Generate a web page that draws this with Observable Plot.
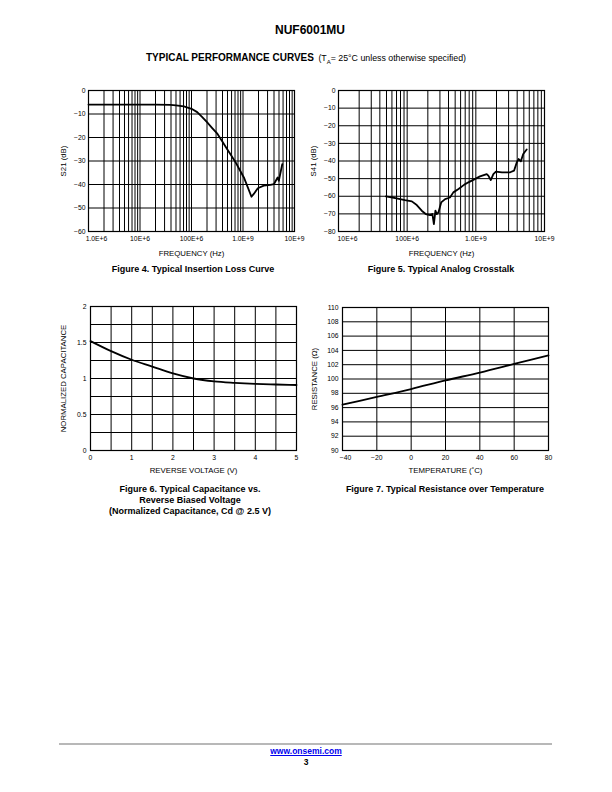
<!DOCTYPE html>
<html>
<head>
<meta charset="utf-8">
<script src="https://cdn.jsdelivr.net/npm/d3@7"></script>
<script src="https://cdn.jsdelivr.net/npm/@observablehq/plot@0.6"></script>
<style>
  body { margin: 0; background: #fff; font-family: "Liberation Sans", Arial, sans-serif; color: #000; }
  #page { position: relative; width: 612px; height: 792px; overflow: hidden; background: #fff; }
  .abs { position: absolute; }
  .ctr { text-align: center; white-space: nowrap; }
  .cap { font-weight: bold; font-size: 9px; line-height: 11px; }
</style>
</head>
<body>
<div id="page">
  <div class="abs ctr" style="left:4px;width:612px;top:23px;font-size:12px;font-weight:bold;line-height:14px;">NUF6001MU</div>
  <div class="abs ctr" style="left:0;width:612px;top:50px;line-height:12px;"><span style="font-size:10px;font-weight:bold;">TYPICAL PERFORMANCE CURVES</span> <span style="font-size:8.8px;">(T<sub style="font-size:6px;">A</sub>= 25°C unless otherwise specified)</span></div>

  <div id="fig4" class="abs" style="left:40px;top:80px;"></div>
  <div id="fig5" class="abs" style="left:300px;top:80px;"></div>
  <div id="fig6" class="abs" style="left:40px;top:296px;"></div>
  <div id="fig7" class="abs" style="left:300px;top:296px;"></div>

  <div class="abs ctr cap" style="left:93px;width:200px;top:264px;">Figure 4. Typical Insertion Loss Curve</div>
  <div class="abs ctr cap" style="left:341px;width:200px;top:264px;">Figure 5. Typical Analog Crosstalk</div>
  <div class="abs ctr cap" style="left:90px;width:200px;top:484px;">Figure 6. Typical Capacitance vs.<br>Reverse Biased Voltage<br>(Normalized Capacitance, Cd @ 2.5 V)</div>
  <div class="abs ctr cap" style="left:345px;width:200px;top:484px;">Figure 7. Typical Resistance over Temperature</div>

  <div class="abs" style="left:59px;top:743px;width:493px;height:2px;background:#b8b8b8;"></div>
  <div class="abs ctr" style="left:0;width:612px;top:746px;font-size:8.5px;font-weight:bold;line-height:11px;"><span style="color:#0000ee;text-decoration:underline;">www.onsemi.com</span></div>
  <div class="abs ctr" style="left:0;width:612px;top:757px;font-size:8.5px;font-weight:bold;line-height:10px;">3</div>
</div>
<script>
// ---------- Figure 4: insertion loss ----------
const fig4Freq = [1e6, 2e6, 5e6, 1e7, 2e7, 3.9e7, 5e7, 7.1e7, 1e8, 1.29e8, 1.6e8, 2e8, 2.5e8, 3.2e8, 4e8, 4.9e8, 6e8, 7.2e8, 8.5e8, 1.04e9, 1.24e9, 1.46e9, 1.62e9, 1.94e9, 2.53e9, 3.4e9, 4.0e9, 4.7e9, 4.96e9, 5.8e9];
const fig4S21 = [-6, -6, -6, -6, -6, -6.1, -6.3, -6.8, -7.8, -9.2, -11.2, -13.5, -15.9, -18.5, -21.8, -24.9, -27.9, -30.6, -33.5, -37, -41.2, -45.2, -44, -41.6, -40.5, -40.2, -39.8, -37, -38.4, -31.3];
const fig4XTicks = [1e6, 1e7, 1e8, 1e9, 1e10];
const fig4XLabels = ["1.0E+6", "10E+6", "100E+6", "1.0E+9", "10E+9"];
const fig4YTicks = [0, -10, -20, -30, -40, -50, -60];

// ---------- Figure 5: crosstalk ----------
const fig5Freq = [4.9e7, 6.7e7, 9.3e7, 1.17e8, 1.38e8, 1.63e8, 1.86e8, 2.15e8, 2.33e8, 2.45e8, 2.58e8, 2.7e8, 2.85e8, 3.13e8, 3.57e8, 4.2e8, 4.7e8, 5.6e8, 6.8e8, 7.8e8, 1.15e9, 1.44e9, 1.52e9, 1.65e9, 1.8e9, 1.96e9, 2.4e9, 3.17e9, 3.6e9, 3.95e9, 4.2e9, 4.52e9, 4.9e9, 5.5e9];
const fig5S41 = [-60.1, -61, -62.2, -62.9, -65, -68.2, -70.1, -70.7, -70.1, -75.8, -68.2, -70.1, -69.2, -63.5, -61.6, -60.7, -57.8, -55.9, -53.4, -52.1, -48.7, -47.4, -48.3, -50.8, -47.4, -46, -46.4, -46.4, -45.5, -40.8, -38.9, -40.2, -36, -33.5];
const fig5XTicks = [1e7, 1e8, 1e9, 1e10];
const fig5XLabels = ["10E+6", "100E+6", "1.0E+9", "10E+9"];
const fig5YTicks = [0, -10, -20, -30, -40, -50, -60, -70, -80];

// ---------- Figure 6: capacitance ----------
const fig6Volt = [0, 0.5, 1, 1.5, 2, 2.5, 3, 3.5, 4, 4.5, 5];
const fig6Cap = [1.52, 1.38, 1.26, 1.165, 1.07, 1.0, 0.96, 0.94, 0.926, 0.917, 0.91];
const fig6XTicks = [0, 1, 2, 3, 4, 5];
const fig6YTicks = [0, 0.5, 1, 1.5, 2];

// ---------- Figure 7: resistance ----------
const fig7Temp = [-40, -20, 0, 20, 40, 60, 80];
const fig7Res = [96.4, 97.5, 98.6, 99.8, 100.9, 102.1, 103.3];
const fig7XTicks = [-40, -20, 0, 20, 40, 60, 80];
const fig7YTicks = [90, 92, 94, 96, 98, 100, 102, 104, 106, 108, 110];

const FONT = "'Liberation Sans', Arial, sans-serif";
const TICK_FS = 6.8;
const TITLE_FS = 7.8;

function logGrid(e0, e1) {
  const out = [];
  for (let e = e0; e < e1; e++) for (let k = 1; k <= 9; k++) out.push(k * Math.pow(10, e));
  out.push(Math.pow(10, e1));
  return out;
}
function range(a, b, s) { const o = []; for (let v = a; v <= b + 1e-9; v += s) o.push(+v.toFixed(6)); return o; }
const signed = d => (d < 0 ? "\u2212" : "") + Math.abs(d);

function chart(cfg) {
  const data = cfg.xs.map((x, i) => ({x, y: cfg.ys[i]}));
  const xfmt = cfg.xLabels
    ? (d => cfg.xLabels[cfg.xTicks.findIndex(t => Math.abs(t - d) < 1e-6 * Math.abs(t || 1))])
    : signed;
  const first = cfg.xTicks.slice(0, 1);
  const rest = cfg.xTicks.slice(1);
  return Plot.plot({
    width: cfg.width, height: cfg.height,
    marginLeft: cfg.ml, marginRight: cfg.mr, marginTop: cfg.mt, marginBottom: cfg.mb,
    style: {fontFamily: FONT, fontSize: TICK_FS + "px", background: "transparent", overflow: "visible", color: "#000"},
    x: {type: cfg.xType, domain: cfg.xDomain},
    y: {type: "linear", domain: cfg.yDomain},
    marks: [
      Plot.gridX(cfg.gridX, {stroke: "#000", strokeOpacity: 1, strokeWidth: 1}),
      Plot.gridY(cfg.gridY, {stroke: "#000", strokeOpacity: 1, strokeWidth: 1}),
      Plot.frame({stroke: "#000", strokeWidth: 1.2}),
      Plot.axisX(first, {tickSize: 0, tickPadding: 5, tickFormat: xfmt, label: null, fontSize: TICK_FS, dx: cfg.firstDx || 0}),
      Plot.axisX(rest, {tickSize: 0, tickPadding: 5, tickFormat: xfmt, label: null, fontSize: TICK_FS}),
      Plot.axisY(cfg.yTicks, {tickSize: 0, tickPadding: cfg.yPad, tickFormat: cfg.yfmt || signed, label: null, fontSize: TICK_FS}),
      Plot.text([cfg.xTitle], {frameAnchor: "bottom", dy: cfg.xTitleDy, text: d => d, fontSize: TITLE_FS, textAnchor: "middle", lineAnchor: "middle"}),
      Plot.text([cfg.yTitle], {frameAnchor: "left", dx: -cfg.yTitleDx, text: d => d, fontSize: TITLE_FS, rotate: -90, textAnchor: "middle", lineAnchor: "middle"}),
      Plot.line(data, {x: "x", y: "y", stroke: "#000", strokeWidth: 1.8, curve: cfg.curve, strokeLinejoin: "round"})
    ]
  });
}

document.getElementById("fig4").append(chart({
  width: 260, height: 185, ml: 48, mr: 6, mt: 10, mb: 34,
  xType: "log", xDomain: [1e6, 1e10], yDomain: [-60, 0],
  gridX: logGrid(6, 10), gridY: fig4YTicks,
  xTicks: fig4XTicks, xLabels: fig4XLabels, firstDx: 8, yTicks: fig4YTicks, yPad: 3,
  xTitle: "FREQUENCY (Hz)", xTitleDy: 22, yTitle: "S21 (dB)", yTitleDx: 25,
  xs: fig4Freq, ys: fig4S21, curve: "linear"
}));

document.getElementById("fig5").append(chart({
  width: 260, height: 185, ml: 38, mr: 16, mt: 10, mb: 34,
  xType: "log", xDomain: [1e7, 1e10], yDomain: [-80, 0],
  gridX: logGrid(7, 10), gridY: fig5YTicks,
  xTicks: fig5XTicks, xLabels: fig5XLabels, firstDx: 9, yTicks: fig5YTicks, yPad: 3,
  xTitle: "FREQUENCY (Hz)", xTitleDy: 22, yTitle: "S41 (dB)", yTitleDx: 25,
  xs: fig5Freq, ys: fig5S41, curve: "linear"
}));

document.getElementById("fig6").append(chart({
  width: 260, height: 185, ml: 50, mr: 4, mt: 10, mb: 31,
  xType: "linear", xDomain: [0, 5], yDomain: [0, 2],
  gridX: range(0, 5, 0.5), gridY: range(0, 2, 0.25),
  xTicks: fig6XTicks, yTicks: fig6YTicks, yPad: 4, yfmt: d => String(d),
  xTitle: "REVERSE VOLTAGE (V)", xTitleDy: 20, yTitle: "NORMALIZED CAPACITANCE", yTitleDx: 27,
  xs: fig6Volt, ys: fig6Cap, curve: "monotone-x"
}));

document.getElementById("fig7").append(chart({
  width: 260, height: 185, ml: 42, mr: 12, mt: 11, mb: 31,
  xType: "linear", xDomain: [-40, 80], yDomain: [90, 110],
  gridX: fig7XTicks, gridY: fig7YTicks,
  xTicks: fig7XTicks, firstDx: 3, yTicks: fig7YTicks, yPad: 4,
  xTitle: "TEMPERATURE (\u02DAC)", xTitleDy: 20, yTitle: "RESISTANCE (\u03A9)", yTitleDx: 28,
  xs: fig7Temp, ys: fig7Res, curve: "monotone-x"
}));
</script>
</body>
</html>
